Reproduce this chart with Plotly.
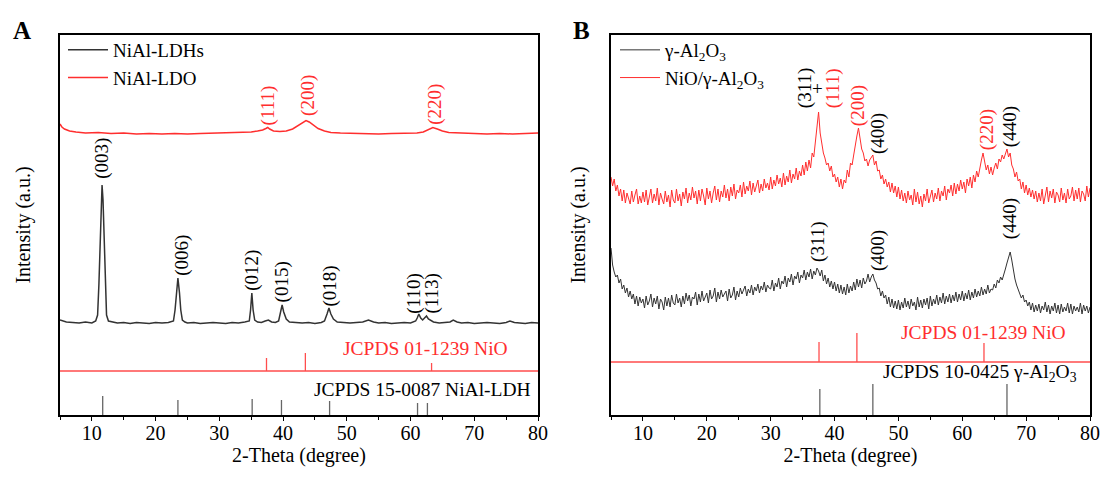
import numpy as np
import plotly.graph_objects as go

# ---------------- Panel A data (2-theta in degrees, intensity in a.u. incl. stacking offset) ----------------
ldh_x = [5, 5.5, 6, 7, 8, 9, 10, 10.6, 10.9, 11.1, 11.3, 11.45, 11.6, 11.75, 11.9, 12.1, 12.3, 12.6, 13.2, 14,
         15, 16, 17, 18, 19, 20, 21, 22, 22.8, 23.05, 23.25, 23.5, 23.75, 23.95, 24.2, 24.6, 25, 26, 27, 28,
         29, 30, 31, 32, 33, 34, 34.7, 34.9, 35.1, 35.3, 35.55, 36, 36.6, 37.2, 37.7, 38.2, 38.8, 39.3, 39.6,
         39.85, 40.1, 40.5, 41, 42, 43, 44, 45, 46, 46.5, 46.9, 47.2, 47.5, 47.9, 48.5, 49.5, 50.5, 51.5, 52.5,
         53.4, 54.2, 55, 56, 57, 58, 59, 60, 60.8, 61.05, 61.3, 61.6, 61.9, 62.2, 62.5, 62.8, 63.1, 63.6, 64.5,
         65.5, 66.2, 66.7, 67.3, 68, 69, 70, 71, 72, 73, 74, 75, 75.6, 76.3, 77, 78, 79, 80]
ldh_y = [95, 94, 93, 92.5, 92, 93, 92, 94, 100, 130, 180, 215, 230, 215, 180, 130, 100, 94, 93, 92,
         92.5, 91.5, 92.5, 92, 91.5, 92.5, 92, 92.5, 94, 105, 122, 137, 122, 105, 95, 93, 92, 92.5, 91.5, 92,
         92.5, 92, 91.5, 92.5, 92, 93, 94, 105, 122, 105, 95, 93, 92.5, 94, 95, 93, 92.5, 94, 102,
         110, 103, 96, 93, 92.5, 92, 92.5, 91.5, 92.5, 94, 101, 107, 101, 96, 93, 92.5, 92, 92.5, 93,
         95, 93, 92, 92.5, 91.5, 92, 92.5, 92, 94, 97, 101, 97, 95, 97, 99, 96, 95, 93, 92,
         92.5, 93, 95, 93, 92, 92.5, 91.5, 92, 92.5, 92, 91.5, 92.5, 94, 92.5, 92, 91.5, 92.5, 92]

ldo_x = [5, 5.3, 5.7, 6.5, 7.5, 9, 11, 13, 15, 17, 19, 21, 23, 25, 27, 29, 31, 33, 35, 36, 36.8, 37.3,
         37.6, 37.9, 38.5, 39.5, 40.5, 41.5, 42.3, 43.0, 43.6, 44.1, 44.7, 45.5, 46.5, 47.5, 49, 51, 53, 55,
         57, 59, 61, 62, 62.8, 63.5, 64.2, 65, 66, 68, 70, 72, 74, 76, 78, 80]
ldo_y = [291, 288, 286, 284, 283, 282, 282.5, 281.5, 282, 281, 281.5, 281, 281.5, 281, 281.5, 282, 282,
         282.5, 283, 284, 285, 286.5, 287.5, 286, 284, 283.5, 284, 286, 289, 292, 294.5, 293, 290, 286.5,
         284, 282.5, 282, 281.5, 281, 281, 281.5, 281.5, 282, 283, 285, 287.5, 286, 284, 282.5, 282, 281.5,
         281, 281.5, 281, 281.5, 282]

# reference cards, panel A
ldh_ref_pos = [11.7, 23.5, 35.15, 39.75, 47.3, 61.1, 62.65]
ldh_ref_int = [19, 15, 16, 15, 14, 12, 12]
nio_ref_pos_a = [37.4, 43.5, 63.3]
nio_ref_int_a = [13, 18, 8]

ldh_hkl = ["(003)", "(006)", "(012)", "(015)", "(018)", "(110)", "(113)"]
ldh_hkl_x = [11.55, 24.1, 35.1, 39.9, 47.3, 60.5, 63.3]
ldh_hkl_y = [257, 160, 145, 133, 129, 121, 121]
ldo_hkl = ["(111)", "(200)", "(220)"]
ldo_hkl_x = [37.7, 43.9, 63.8]
ldo_hkl_y = [310, 320, 311]

# ---------------- Panel B data (0.25 degree steps from 5 to 80) ----------------
b_x = np.linspace(5, 80, 301)
nio_al_y = [
    238, 229, 236, 224,  230, 219, 226, 214,  225, 212, 222, 215,  211, 224, 213, 220,  226, 211, 219, 212,
    223, 213, 225, 210,  218, 226, 212, 221,  214, 227, 210, 222,  216, 211, 224, 213,  220, 208, 225, 215,
    212, 226, 214, 221,  209, 223, 216, 227,  212, 222, 215, 228,  217, 224, 211, 225,  214, 226, 219, 210,
    227, 216, 224, 212,  222, 229, 215, 226,  213, 224, 218, 230,  217, 226, 214, 228,  219, 231, 216, 225,
    222, 230, 218, 233,  221, 229, 224, 234,  220, 232, 223, 228,  235, 222, 231, 224,  236, 227, 232, 225,
    238, 226, 235, 229,  240, 231, 237, 228,  242, 230, 239, 233,  245, 232, 241, 236,  247, 235, 244, 239,
    250, 240, 253, 244,  255, 247, 262, 258,  272, 290, 303, 282,  270, 262, 257, 250,  252, 244, 249, 238,
    241, 233, 238, 228,  236, 226, 235, 232,  245, 238, 252, 250,  260, 272, 279, 287,  276, 266, 262, 254,
    256, 249, 255, 258,  260, 250, 254, 244,  245, 236, 240, 231,  236, 228, 233, 223,  232, 222, 229, 218,
    228, 216, 225, 214,  222, 212, 224, 215,  220, 210, 226, 213,  223, 211, 219, 208,  221, 214, 226, 212,
    218, 225, 213, 222,  216, 227, 214, 224,  219, 229, 215, 226,  222, 230, 219, 232,  221, 231, 224, 235,
    226, 233, 222, 236,  229, 238, 227, 240,  233, 244, 238, 248,  255, 262, 252, 245,  250, 241, 248, 240,
    247, 252, 246, 256,  253, 260, 256, 262,  266, 258, 262, 250,  246, 238, 243, 234,  236, 226, 233, 222,
    230, 220, 227, 218,  225, 216, 224, 213,  222, 214, 226, 211,  220, 228, 213, 224,  217, 226, 212, 223,
    220, 213, 227, 215,  222, 212, 226, 216,  219, 228, 214, 225,  216, 227, 213, 224,  221, 214, 229, 218,
    227]
al_y = [
    167, 150, 143, 138,  140, 132, 136, 126,  130, 122, 127, 118,  124, 116, 121, 111,  119, 109, 118, 112,
    116, 107, 119, 110,  114, 121, 108, 117,  111, 119, 106, 116,  113, 105, 118, 109,  117, 108, 120, 112,
    110, 121, 112, 117,  108, 119, 111, 122,  114, 120, 109, 118,  116, 123, 110, 121,  113, 124, 114, 119,
    122, 112, 125, 116,  119, 127, 113, 123,  116, 125, 118, 121,  124, 114, 126, 117,  120, 128, 115, 124,
    118, 127, 121, 125,  129, 119, 126, 122,  130, 120, 128, 124,  131, 122, 129, 125,  133, 123, 130, 127,
    126, 135, 124, 132,  128, 137, 126, 134,  131, 139, 128, 137,  133, 141, 130, 139,  136, 143, 132, 140,
    137, 145, 135, 143,  138, 146, 136, 144,  140, 147, 144, 139,  145, 134, 140, 131,  137, 128, 134, 126,
    133, 124, 131, 122,  130, 121, 128, 120,  131, 122, 129, 124,  133, 125, 136, 128,  135, 127, 137, 131,
    134, 141, 133, 138,  141, 135, 132, 126,  127, 119, 124, 117,  120, 111, 118, 108,  116, 107, 114, 106,
    115, 105, 113, 107,  117, 108, 114, 106,  116, 109, 113, 105,  118, 108, 115, 107,  116, 110, 117, 106,
    119, 109, 116, 111,  120, 110, 118, 112,  122, 111, 119, 113,  121, 112, 120, 114,  123, 113, 121, 115,
    124, 114, 122, 116,  125, 115, 123, 117,  126, 118, 124, 119,  128, 120, 126, 121,  130, 122, 126, 125,
    131, 127, 135, 132,  138, 135, 142, 146,  152, 158, 163, 155,  145, 136, 130, 125,  122, 117, 120, 113,
    115, 109, 113, 105,  112, 103, 110, 104,  111, 102, 109, 105,  113, 103, 110, 101,  109, 104, 112, 102,
    110, 101, 111, 103,  108, 104, 112, 102,  111, 101, 109, 104,  108, 103, 112, 101,  110, 104, 109, 102,
    108]

nio_ref_pos_b = [37.57, 43.5, 63.4]
nio_ref_int_b = [20, 29, 19]
al_ref_pos = [37.7, 46.0, 67.0]
al_ref_int = [26, 31, 31]

# hkl labels panel B
b_labels = ["(311)", "(111)", "(200)", "(400)", "(220)", "(440)", "(311)", "(400)", "(440)"]
b_labels_x = [35.4, 39.8, 43.7, 46.8, 63.9, 67.5, 37.4, 46.8, 67.5]
b_labels_y = [327, 327, 309, 282, 285, 288, 173, 165, 196]
b_labels_red = [False, True, True, False, True, False, False, False, False]

# ---------------- styling constants ----------------
NIO_LINE_A = 44      # baseline level of the NiO reference card in panel A
NIO_LINE_B = 53      # baseline level of the NiO reference card in panel B
BLACK = "#333333"
RED = "#FF2E2E"
STICK_BLACK = "#666666"
STICK_RED = "#FF4D4D"
FONT = "Liberation Serif"

W, H = 1102, 483
dom_a = [60 / W, 538 / W]
dom_b = [611 / W, 1090 / W]
dom_y = [1 - 415 / H, 1 - 35 / H]


def sticks(pos, inten, base):
    xs, ys = [], []
    for p, i in zip(pos, inten):
        xs += [p, p, None]
        ys += [base, base + i, None]
    return xs, ys


fig = go.Figure()

# Panel A curves
fig.add_trace(go.Scatter(x=ldh_x, y=ldh_y, mode="lines", name="NiAl-LDHs",
                         line=dict(color=BLACK, width=1.5), xaxis="x", yaxis="y", legend="legend"))
fig.add_trace(go.Scatter(x=ldo_x, y=ldo_y, mode="lines", name="NiAl-LDO",
                         line=dict(color=RED, width=1.5), xaxis="x", yaxis="y", legend="legend"))
sx, sy = sticks(nio_ref_pos_a, nio_ref_int_a, NIO_LINE_A)
fig.add_trace(go.Scatter(x=sx + [5, 80], y=sy + [NIO_LINE_A, NIO_LINE_A], mode="lines",
                         line=dict(color=STICK_RED, width=1.3), showlegend=False, xaxis="x", yaxis="y"))
sx, sy = sticks(ldh_ref_pos, ldh_ref_int, 0)
fig.add_trace(go.Scatter(x=sx, y=sy, mode="lines", line=dict(color=STICK_BLACK, width=1.3),
                         showlegend=False, xaxis="x", yaxis="y"))

# Panel B curves
fig.add_trace(go.Scatter(x=b_x, y=al_y, mode="lines", name="γ-Al<sub>2</sub>O<sub>3</sub>",
                         line=dict(color=BLACK, width=1), xaxis="x2", yaxis="y2", legend="legend2"))
fig.add_trace(go.Scatter(x=b_x, y=nio_al_y, mode="lines", name="NiO/γ-Al<sub>2</sub>O<sub>3</sub>",
                         line=dict(color=RED, width=1), xaxis="x2", yaxis="y2", legend="legend2"))
sx, sy = sticks(nio_ref_pos_b, nio_ref_int_b, NIO_LINE_B)
fig.add_trace(go.Scatter(x=sx + [5, 80], y=sy + [NIO_LINE_B, NIO_LINE_B], mode="lines",
                         line=dict(color=STICK_RED, width=1.3), showlegend=False, xaxis="x2", yaxis="y2"))
sx, sy = sticks(al_ref_pos, al_ref_int, 0)
fig.add_trace(go.Scatter(x=sx, y=sy, mode="lines", line=dict(color=STICK_BLACK, width=1.3),
                         showlegend=False, xaxis="x2", yaxis="y2"))

ann = []
for t, x, y in zip(ldh_hkl, ldh_hkl_x, ldh_hkl_y):
    ann.append(dict(text=t, x=x, y=y, xref="x", yref="y", textangle=-90, showarrow=False,
                    font=dict(size=19, color="black")))
for t, x, y in zip(ldo_hkl, ldo_hkl_x, ldo_hkl_y):
    ann.append(dict(text=t, x=x, y=y, xref="x", yref="y", textangle=-90, showarrow=False,
                    font=dict(size=19, color=RED)))
for t, x, y, r in zip(b_labels, b_labels_x, b_labels_y, b_labels_red):
    ann.append(dict(text=t, x=x, y=y, xref="x2", yref="y2", textangle=-90, showarrow=False,
                    font=dict(size=19, color=RED if r else "black")))
ann.append(dict(text="+", x=37.4, y=327, xref="x2", yref="y2", showarrow=False,
                font=dict(size=19, color="black")))

ann += [
    dict(text="JCPDS 01-1239 NiO", x=62.4, y=67, xref="x", yref="y", showarrow=False,
         font=dict(size=19.5, color=RED)),
    dict(text="JCPDS 15-0087 NiAl-LDH", x=61.9, y=26, xref="x", yref="y", showarrow=False,
         font=dict(size=19.5, color="black")),
    dict(text="JCPDS 01-1239 NiO", x=63.4, y=83, xref="x2", yref="y2", showarrow=False,
         font=dict(size=19.5, color=RED)),
    dict(text="JCPDS 10-0425 γ-Al<sub>2</sub>O<sub>3</sub>", x=62.8, y=42, xref="x2", yref="y2",
         showarrow=False, font=dict(size=19.5, color="black")),
    dict(text="<b>A</b>", x=22 / W, y=1 - 30 / H, xref="paper", yref="paper", showarrow=False,
         xanchor="center", yanchor="middle", font=dict(size=25, color="black")),
    dict(text="<b>B</b>", x=581 / W, y=1 - 30 / H, xref="paper", yref="paper", showarrow=False,
         xanchor="center", yanchor="middle", font=dict(size=25, color="black")),
]

xaxis_common = dict(range=[5, 80], tick0=0, dtick=10, ticks="outside", ticklen=4, tickwidth=1.3,
                    tickcolor="black", showline=True, linecolor="black", linewidth=1.5, mirror=True,
                    showgrid=False, zeroline=False, automargin=False, ticklabelstandoff=-5,
                    tickfont=dict(size=20, color="black"),
                    minor=dict(ticks="outside", dtick=5, tick0=0, ticklen=3, tickwidth=1.3, tickcolor="black"),
                    title=dict(text="2-Theta (degree)", font=dict(size=20, color="black"), standoff=0))


def yaxis_common(standoff):
    return dict(range=[0, 380], showticklabels=False, ticks="", showline=True, linecolor="black",
                linewidth=1.5, mirror=True, showgrid=False, zeroline=False, automargin=False,
                title=dict(text="Intensity (a.u.)", font=dict(size=20, color="black"), standoff=standoff))


legend_common = dict(font=dict(size=19, color="black", family=FONT), bgcolor="rgba(0,0,0,0)",
                     borderwidth=0, xanchor="left", yanchor="top", y=dom_y[1] + 4 / H, tracegroupgap=0,
                     itemwidth=40)

fig.update_layout(
    width=W, height=H,
    margin=dict(l=0, r=0, t=0, b=0, autoexpand=False),
    paper_bgcolor="white", plot_bgcolor="white",
    font=dict(family=FONT, color="black"),
    xaxis=dict(domain=dom_a, anchor="y", **xaxis_common),
    yaxis=dict(domain=dom_y, anchor="x", **yaxis_common(22)),
    xaxis2=dict(domain=dom_b, anchor="y2", **xaxis_common),
    yaxis2=dict(domain=dom_y, anchor="x2", **yaxis_common(18)),
    legend=dict(x=dom_a[0] + 3 / W, **legend_common),
    legend2=dict(x=dom_b[0] + 4 / W, **legend_common),
    annotations=ann,
    showlegend=True,
)

fig.write_html("out.html", config={"displayModeBar": False},
               post_script="document.body.style.margin='0';")
